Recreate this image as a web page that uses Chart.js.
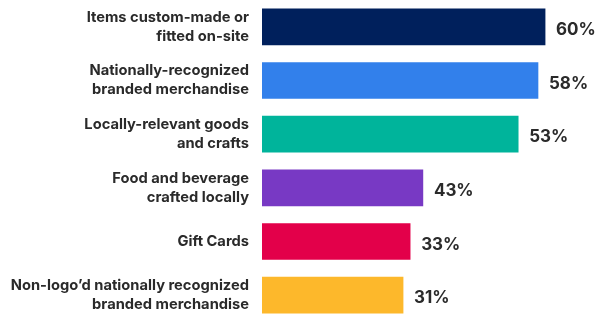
<!DOCTYPE html>
<html>
<head>
<meta charset="utf-8">
<script src="https://cdn.jsdelivr.net/npm/chart.js@4.4.1/dist/chart.umd.min.js"></script>
<style>
html,body{margin:0;padding:0;background:#fff;overflow:hidden;}
#wrap{position:relative;width:605px;height:322px;}
</style>
</head>
<body>
<div id="wrap"><canvas id="c"></canvas></div>
<script>
const categories = [
  ["Items custom-made or", "fitted on-site"],
  ["Nationally-recognized", "branded merchandise"],
  ["Locally-relevant goods", "and crafts"],
  ["Food and beverage", "crafted locally"],
  ["Gift Cards"],
  ["Non-logo\u2019d nationally recognized", "branded merchandise"]
];
// printed percentages
const valueLabels = ["60%", "58%", "53%", "43%", "33%", "31%"];
// bar lengths as drawn in the picture (same axis units)
const barValues = [60, 58.5, 54.3, 34.1, 31.4, 29.9];
const barColors = ["#00205C", "#3280EB", "#00B49B", "#7839C4", "#E3004A", "#FDB82B"];

const valueLabelPlugin = {
  id: 'valueLabels',
  afterDatasetsDraw(chart) {
    const ctx = chart.ctx;
    const meta = chart.getDatasetMeta(0);
    ctx.save();
    ctx.font = "bold 17px Inter";
    ctx.fillStyle = "#2a2a2a";
    ctx.textAlign = "left";
    ctx.textBaseline = "middle";
    meta.data.forEach((bar, i) => {
      ctx.fillText(valueLabels[i], bar.x + 11, bar.y + 3);
    });
    ctx.restore();
  }
};

new Chart(document.getElementById('c'), {
  type: 'bar',
  data: {
    labels: categories,
    datasets: [{
      data: barValues,
      backgroundColor: barColors,
      barThickness: 36,
      borderWidth: 0
    }]
  },
  options: {
    indexAxis: 'y',
    responsive: true,
    maintainAspectRatio: false,
    animation: false,
    layout: { padding: 0 },
    plugins: { legend: { display: false }, tooltip: { enabled: false } },
    scales: {
      x: {
        min: 0, max: 72.7,
        display: false,
        grid: { display: false }
      },
      y: {
        afterFit(scale) { scale.width = 262; scale.paddingTop = 0; scale.paddingBottom = 0; },
        grid: { display: false, drawTicks: false },
        border: { display: false },
        ticks: {
          padding: 13,
          color: "#2a2a2a",
          font: { family: "Inter", size: 14.7, weight: "bold", lineHeight: 1.3 }
        }
      }
    }
  },
  plugins: [valueLabelPlugin]
});
</script>
</body>
</html>
